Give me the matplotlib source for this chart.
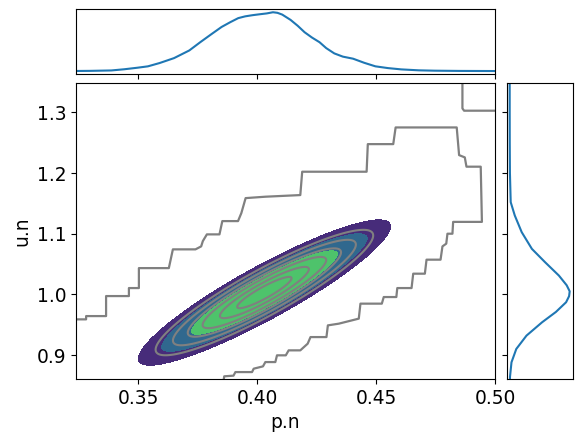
import numpy as np
import matplotlib
matplotlib.use("Agg")
import matplotlib.pyplot as plt

# ---- marginal densities (normalised heights) ----
p_vals = [0.3200, 0.3297, 0.3386, 0.3440, 0.3495, 0.3540, 0.3589, 0.3650, 0.3714,
          0.3760, 0.3808, 0.3850, 0.3886, 0.3920, 0.3949, 0.3980, 0.4011, 0.4040,
          0.4066, 0.4085, 0.4105, 0.4140, 0.4170, 0.4199, 0.4230, 0.4262, 0.4290,
          0.4324, 0.4360, 0.4403, 0.4450, 0.4497, 0.4550, 0.4606, 0.4680, 0.4747,
          0.4850, 0.5000, 0.5050]
p_dens = [0.000, 0.003, 0.010, 0.030, 0.056, 0.080, 0.136, 0.220, 0.350,
          0.490, 0.630, 0.750, 0.830, 0.900, 0.930, 0.950, 0.966, 0.980,
          1.000, 0.990, 0.960, 0.870, 0.770, 0.660, 0.570, 0.490, 0.390,
          0.300, 0.245, 0.210, 0.140, 0.080, 0.050, 0.028, 0.012, 0.006,
          0.002, 0.000, 0.000]

u_vals = [1.360, 1.300, 1.250, 1.200, 1.152, 1.130, 1.1026, 1.075, 1.053, 1.031,
          1.015, 1.005, 0.997, 0.987, 0.971, 0.954, 0.932, 0.910, 0.888, 0.864, 0.850]
u_dens = [0.000, 0.000, 0.001, 0.004, 0.017, 0.085, 0.200, 0.370, 0.590, 0.820,
          0.950, 1.000, 0.990, 0.940, 0.770, 0.540, 0.280, 0.110, 0.030, 0.005, 0.003]

# ---- joint posterior summary (filled + line contours) ----
p_mean, u_mean = 0.403, 1.003
p_sd, u_sd = 0.0208, 0.047
rho = 0.91
fill_levels = [0.0, 1.5, 2.1, 2.55]          # Mahalanobis radii
fill_colors = ["#4ec36b", "#30688e", "#472c7a"]
line_levels = [0.55, 0.9, 1.25, 1.55, 1.85, 2.2]

# ---- outer step-shaped contour ----
stair_p = [0.3212, 0.3280, 0.3280, 0.3364, 0.3364, 0.3460, 0.3460, 0.3502, 0.3502,
           0.3628, 0.3645, 0.3740, 0.3764, 0.3771, 0.3788, 0.3841, 0.3853, 0.3919,
           0.3933, 0.3951, 0.4034, 0.4181, 0.4189, 0.4460, 0.4465, 0.4572, 0.4582,
           0.4839, 0.4849, 0.4873, 0.4880, 0.4940, 0.4945, 0.4824, 0.4821, 0.4800,
           0.4795, 0.4779, 0.4771, 0.4712, 0.4705, 0.4656, 0.4649, 0.4589, 0.4585,
           0.4532, 0.4524, 0.4434, 0.4427, 0.4343, 0.4297, 0.4291, 0.4224, 0.4212,
           0.4181, 0.4132, 0.4120, 0.4083, 0.4076, 0.4034, 0.4024, 0.3985, 0.3978,
           0.3908, 0.3900, 0.3861, 0.3855]
stair_u = [0.9588, 0.9588, 0.9642, 0.9642, 0.9972, 0.9972, 1.0104, 1.0104, 1.0433,
           1.0433, 1.0742, 1.0742, 1.0791, 1.0878, 1.0989, 1.0989, 1.1208, 1.1208,
           1.1340, 1.1587, 1.1610, 1.1637, 1.2022, 1.2022, 1.2477, 1.2477, 1.2752,
           1.2752, 1.2296, 1.2258, 1.2105, 1.2105, 1.1195, 1.1195, 1.1000, 1.1000,
           1.0836, 1.0791, 1.0572, 1.0572, 1.0341, 1.0341, 1.0104, 1.0104, 0.9956,
           0.9956, 0.9847, 0.9847, 0.9600, 0.9517, 0.9489, 0.9296, 0.9296, 0.9187,
           0.9077, 0.9077, 0.8995, 0.8995, 0.8884, 0.8884, 0.8813, 0.8775, 0.8719,
           0.8719, 0.8660, 0.8649, 0.8500]
corner_p = [0.4863, 0.4863, 0.4870, 0.5020]
corner_u = [1.360, 1.3066, 1.3028, 1.3028]

x_ticks = [0.35, 0.40, 0.45, 0.50]
y_ticks = [0.9, 1.0, 1.1, 1.2, 1.3]
x_label, y_label = "p.n", "u.n"

fs = 13.4
fig = plt.figure(figsize=(5.82, 4.43), dpi=100)
ax = fig.add_axes([0.1306, 0.1445, 0.7199, 0.6675])
axt = fig.add_axes([0.1306, 0.833, 0.7199, 0.146], sharex=ax)
axr = fig.add_axes([0.8706, 0.1445, 0.1134, 0.6675], sharey=ax)

gp = np.linspace(0.30, 0.52, 500)
gu = np.linspace(0.80, 1.40, 500)
P, U = np.meshgrid(gp, gu)
zp = (P - p_mean) / p_sd
zu = (U - u_mean) / u_sd
dist = np.sqrt((zp**2 - 2 * rho * zp * zu + zu**2) / (1 - rho**2))
ax.contourf(P, U, dist, levels=fill_levels, colors=fill_colors)
ax.contour(P, U, dist, levels=line_levels, colors="grey", linewidths=1.5)

ax.plot(stair_p, stair_u, color="grey", lw=1.6)
ax.plot(corner_p, corner_u, color="grey", lw=1.6)

ax.set_xlim(0.32375, 0.50)
ax.set_ylim(0.8605, 1.348)
ax.set_xticks(x_ticks)
ax.set_yticks(y_ticks)
ax.set_xticklabels([f"{v:.2f}" for v in x_ticks])
ax.set_yticklabels([f"{v:.1f}" for v in y_ticks])
ax.tick_params(labelsize=fs)
ax.set_xlabel(x_label, fontsize=fs)
ax.set_ylabel(y_label, fontsize=fs)

axt.plot(p_vals, p_dens, color="#1f77b4", lw=1.5)
axt.tick_params(labelbottom=False, left=False, labelleft=False)
axt.set_yticks([])
axt.set_xlim(0.32375, 0.50)

axr.plot(u_dens, u_vals, color="#1f77b4", lw=1.5)
axr.tick_params(labelleft=False, bottom=False, labelbottom=False)
axr.set_xticks([])
axr.set_ylim(0.8605, 1.348)

fig.savefig("out.png", dpi=100)
